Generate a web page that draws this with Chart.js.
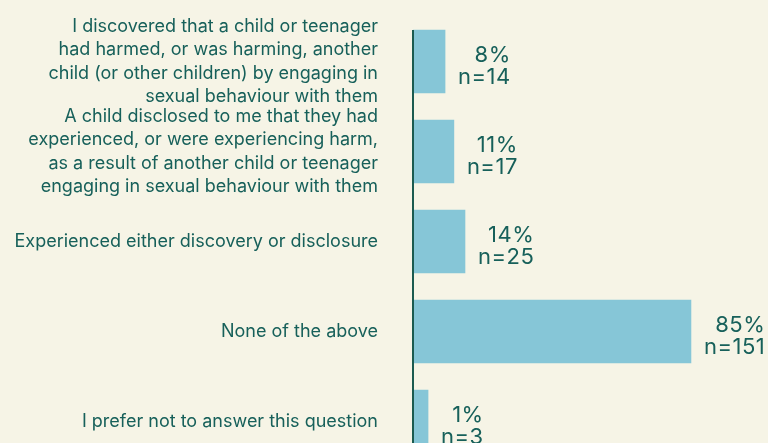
<!DOCTYPE html>
<html>
<head>
<meta charset="utf-8">
<script src="https://cdn.jsdelivr.net/npm/chart.js@4"></script>
<style>
  html, body { margin: 0; padding: 0; background: #f6f4e6; overflow: hidden; }
  #wrap { width: 768px; height: 443px; overflow: hidden; }
  canvas { display: block; }
</style>
</head>
<body>
<div id="wrap"><canvas id="c" width="768" height="480"></canvas></div>
<script>
// Data
const categories = [
  ["I discovered that a child or teenager", "had harmed, or was harming, another", "child (or other children) by engaging in", "sexual behaviour with them"],
  ["A child disclosed to me that they had", "experienced, or were experiencing harm,", "as a result of another child or teenager", "engaging in sexual behaviour with them"],
  "Experienced either discovery or disclosure",
  "None of the above",
  "I prefer not to answer this question"
];
// bar lengths as drawn (percent scale)
const barValues = [9.8, 12.5, 15.9, 85, 4.6];
const percentLabels = ["8%", "11%", "14%", "85%", "1%"];
const nCounts = [14, 17, 25, 151, 3];

const TEXT = '#17605a';
const FONT = 'Inter';

const axisLine = {
  id: 'axisLine',
  afterDatasetsDraw(chart) {
    const ctx = chart.ctx;
    const meta = chart.getDatasetMeta(0);
    const first = meta.data[0];
    const top = first.y - first.height / 2;
    const x = chart.chartArea.left;
    ctx.save();
    ctx.strokeStyle = '#1b5b50';
    ctx.lineWidth = 2;
    ctx.beginPath();
    ctx.moveTo(x, top);
    ctx.lineTo(x, chart.chartArea.bottom);
    ctx.stroke();
    ctx.restore();
  }
};

const valueLabels = {
  id: 'valueLabels',
  afterDatasetsDraw(chart) {
    const ctx = chart.ctx;
    const meta = chart.getDatasetMeta(0);
    ctx.save();
    ctx.font = '22px ' + FONT;
    try { ctx.letterSpacing = '0.5px'; } catch (e) {}
    ctx.fillStyle = TEXT;
    ctx.textAlign = 'right';
    ctx.textBaseline = 'alphabetic';
    meta.data.forEach((bar, i) => {
      const l1 = percentLabels[i];
      const l2 = 'n=' + nCounts[i];
      const w = Math.max(ctx.measureText(l1).width, ctx.measureText(l2).width);
      const right = bar.x + 13 + w;
      ctx.fillText(l1, right, bar.y + 0.5);
      ctx.fillText(l2, right, bar.y + 22);
    });
    ctx.restore();
  }
};

new Chart(document.getElementById('c'), {
  type: 'bar',
  data: {
    labels: categories,
    datasets: [{
      data: barValues,
      backgroundColor: '#86c6d7',
      borderWidth: 0,
      barThickness: 63,
      clip: 0
    }]
  },
  options: {
    indexAxis: 'y',
    responsive: false,
    animation: false,
    events: [],
    layout: { padding: { top: 16.5, bottom: 13.5, left: 0, right: 28 } },
    plugins: { legend: { display: false }, tooltip: { enabled: false } },
    scales: {
      x: { display: false, min: 0, max: 100 },
      y: {
        grid: { display: false, drawTicks: false },
        border: { display: false },
        ticks: {
          color: TEXT,
          padding: 35,
          autoSkip: false,
          font: { family: FONT, size: 18, lineHeight: 1.3 }
        },
        afterFit(scale) {
          scale.width = 413;
          scale.paddingTop = 0;
          scale.paddingBottom = 0;
        }
      }
    }
  },
  plugins: [axisLine, valueLabels]
});
</script>
</body>
</html>
